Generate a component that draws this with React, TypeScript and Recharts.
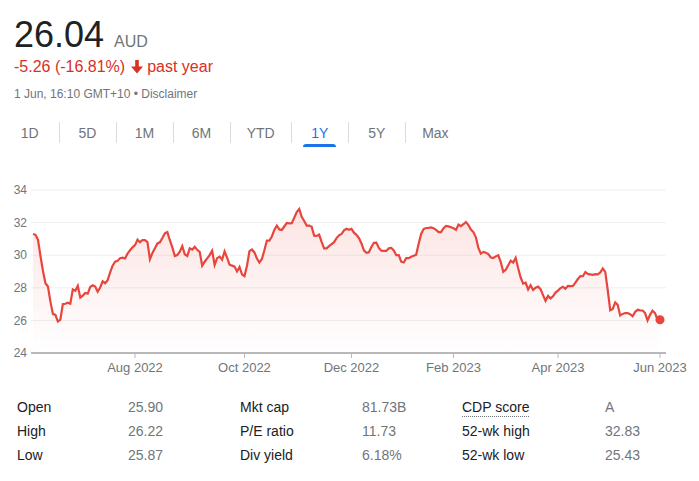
import { ComposedChart, Area, XAxis, YAxis, CartesianGrid, ReferenceDot } from 'recharts'

// daily closes, 1 Jun 2022 -> 1 Jun 2023 (one per trading day)
const prices = [
  31.3, 31.25, 30.95, 29.95, 29.05, 28.28, 28.08, 27.15, 26.4, 26.34,
  25.93, 26.04, 27.0, 27.02, 27.09, 27.03, 27.9, 27.82, 28.12, 27.4,
  27.52, 27.68, 27.64, 28.05, 28.16, 28.08, 27.76, 28.02, 28.4, 28.28,
  28.47, 28.95, 29.36, 29.6, 29.65, 29.82, 29.85, 29.8, 30.1, 30.3,
  30.48, 30.62, 30.95, 30.79, 30.93, 30.93, 30.8, 29.75, 30.14, 30.42,
  30.72, 30.79, 31.05, 31.34, 31.42, 30.92, 30.48, 29.95, 30.01, 30.21,
  30.56, 30.05, 29.95, 30.42, 30.34, 30.52, 30.33, 30.21, 29.35, 29.6,
  29.8, 30.01, 30.28, 29.4, 29.82, 29.91, 29.72, 30.24, 29.85, 29.42,
  29.36, 29.3, 29.0, 29.28, 28.83, 28.72, 29.35, 30.25, 30.35, 30.17,
  29.8, 29.55, 29.77, 30.3, 30.9, 30.9, 31.15, 31.55, 31.82, 31.58,
  31.55, 31.76, 31.98, 31.95, 31.96, 32.3, 32.65, 32.83, 32.35, 32.1,
  31.82, 31.82, 31.74, 31.2, 31.18, 31.26, 30.82, 30.42, 30.42, 30.56,
  30.68, 30.8, 31.05, 31.22, 31.3, 31.52, 31.62, 31.56, 31.62, 31.38,
  31.25, 31.05, 30.72, 30.3, 30.15, 30.18, 30.5, 30.76, 30.77, 30.45,
  30.27, 30.26, 30.26, 30.42, 30.45, 30.29, 30.0, 30.0, 29.6, 29.55,
  29.82, 29.82, 29.9, 29.96, 30.03, 30.7, 31.3, 31.6, 31.67, 31.68,
  31.7, 31.66, 31.55, 31.42, 31.42, 31.66, 31.8, 31.77, 31.72, 31.66,
  31.55, 31.88, 31.78, 31.9, 32.03, 31.85, 31.57, 31.42, 31.1, 30.45,
  30.1, 30.2, 30.15, 30.07, 29.86, 29.83, 29.93, 30.0, 29.58, 28.98,
  29.1, 29.38, 29.66, 29.55, 29.84, 29.2, 28.63, 28.26, 28.31, 27.9,
  28.16, 27.87, 28.01, 28.07, 27.92, 27.55, 27.2, 27.5, 27.35, 27.48,
  27.71, 27.83, 27.98, 28.06, 27.94, 28.12, 28.1, 28.11, 28.32, 28.54,
  28.72, 28.71, 28.96, 28.85, 28.82, 28.8, 28.84, 28.82, 28.94, 29.19,
  28.98, 27.85, 26.62, 26.7, 27.1, 26.95, 26.3, 26.4, 26.45, 26.45,
  26.38, 26.25, 26.52, 26.65, 26.62, 26.61, 26.45, 26.0, 26.34, 26.59,
  26.45, 26.04, 26.04,
]

const yTicks = [24, 26, 28, 30, 32, 34]
const monthTicks = [41, 85, 128, 169, 211, 252]
const monthLabels = ['Aug 2022', 'Oct 2022', 'Dec 2022', 'Feb 2023', 'Apr 2023', 'Jun 2023']

const tabs = ['1D', '5D', '1M', '6M', 'YTD', '1Y', '5Y', 'Max']
const tabWidths = [57.5, 57, 57, 57, 61.4, 57, 57, 60]
const activeTab = '1Y'

const statNames1 = ['Open', 'High', 'Low']
const statValues1 = ['25.90', '26.22', '25.87']
const statNames2 = ['Mkt cap', 'P/E ratio', 'Div yield']
const statValues2 = ['81.73B', '11.73', '6.18%']
const statNames3 = ['CDP score', '52-wk high', '52-wk low']
const statValues3 = ['A', '32.83', '25.43']

const RED = '#d93025'
const LINE = '#e8453c'
const GREY = '#70757a'
const FONT = 'Arial, "Liberation Sans", Helvetica, sans-serif'

const chartData = prices.map((p, i) => ({ i, price: p }))

function DownArrow() {
  return (
    <svg width="12" height="14" viewBox="0 0 12 14" style={{ display: 'block' }}>
      <path d="M4.2 0h3.6v6.5H12L6 13.5 0 6.5h4.2z" fill={RED} />
    </svg>
  )
}

export default function App() {
  const last = prices.length - 1
  const cols = [
    { x: 17, items: statNames1, color: '#202124' },
    { x: 128, items: statValues1, color: GREY },
    { x: 240, items: statNames2, color: '#202124' },
    { x: 362, items: statValues2, color: GREY },
    { x: 462, items: statNames3, color: '#202124' },
    { x: 605, items: statValues3, color: GREY },
  ]

  return (
    <div style={{ position: 'absolute', left: 0, top: 0, width: 699, height: 481, fontFamily: FONT, background: '#fff' }}>
      {/* price header */}
      <div style={{ position: 'absolute', left: 14, top: 17, display: 'flex', alignItems: 'baseline' }}>
        <span style={{ fontSize: 36, lineHeight: '36px', color: '#202124' }}>26.04</span>
        <span style={{ fontSize: 16, color: GREY, marginLeft: 10 }}>AUD</span>
      </div>
      <div style={{ position: 'absolute', left: 14, top: 59, display: 'flex', alignItems: 'center', fontSize: 16, lineHeight: '16px', color: RED }}>
        <span>-5.26 (-16.81%)</span>
        <span style={{ margin: '0 4px 0 6px' }}><DownArrow /></span>
        <span>past year</span>
      </div>
      <div style={{ position: 'absolute', left: 14, top: 88, fontSize: 12, lineHeight: '12px', color: GREY }}>
        1 Jun, 16:10 GMT+10 • Disclaimer
      </div>

      {/* range tabs */}
      <div style={{ position: 'absolute', left: 1, top: 122, display: 'flex', height: 21 }}>
        {tabs.map((t, k) => (
          <div
            key={t}
            style={{
              width: tabWidths[k],
              height: 21,
              boxSizing: 'border-box',
              borderLeft: k > 0 ? '1px solid #dadce0' : 'none',
              textAlign: 'center',
              fontSize: 14,
              lineHeight: '22px',
              color: t === activeTab ? '#1a73e8' : GREY,
              position: 'relative',
            }}
          >
            {t}
            {t === activeTab && (
              <div style={{ position: 'absolute', left: 11, right: 12, top: 22, height: 3, background: '#1a73e8', borderRadius: '3px 3px 0 0' }} />
            )}
          </div>
        ))}
      </div>

      {/* chart */}
      <div style={{ position: 'absolute', left: 0, top: 170 }}>
        <ComposedChart width={699} height={213} data={chartData} margin={{ top: 20, right: 33, bottom: 0, left: 0 }}>
          <defs>
            <linearGradient id="priceFill" x1="0" y1="0" x2="0" y2="1">
              <stop offset="0%" stopColor={LINE} stopOpacity={0.24} />
              <stop offset="100%" stopColor={LINE} stopOpacity={0} />
            </linearGradient>
          </defs>
          <CartesianGrid vertical={false} stroke="#efefef" />
          <XAxis
            dataKey="i"
            type="number"
            domain={[0, last]}
            ticks={monthTicks}
            interval={0}
            tickFormatter={(v) => monthLabels[monthTicks.indexOf(v)]}
            padding={{ left: 2, right: 6 }}
            axisLine={{ stroke: '#b8b8b8', strokeWidth: 2 }}
            tickLine={{ stroke: '#b8b8b8' }}
            tickSize={5}
            tickMargin={5}
            tick={{ fill: GREY, fontSize: 13 }}
            height={30}
          />
          <YAxis
            domain={[24, 34]}
            ticks={yTicks}
            interval={0}
            axisLine={false}
            tickLine={false}
            tickSize={0}
            tickMargin={4}
            width={31}
            tick={{ fill: GREY, fontSize: 12 }}
          />
          <Area
            type="linear"
            dataKey="price"
            stroke={LINE}
            strokeWidth={2.2}
            fill="url(#priceFill)"
            isAnimationActive={false}
            dot={false}
            activeDot={false}
          />
          <ReferenceDot x={last} y={prices[last]} r={4.5} fill={LINE} stroke="none" />
        </ComposedChart>
      </div>

      {/* key stats */}
      {cols.map((c, ci) =>
        c.items.map((txt, ri) => (
          <div
            key={`${ci}-${ri}`}
            style={{
              position: 'absolute',
              left: c.x,
              top: 395 + ri * 24,
              fontSize: 14,
              lineHeight: '24px',
              color: c.color,
              whiteSpace: 'nowrap',
            }}
          >
            <span style={txt === 'CDP score' ? { borderBottom: '1px dotted #70757a', paddingBottom: 1 } : undefined}>{txt}</span>
          </div>
        ))
      )}
    </div>
  )
}
